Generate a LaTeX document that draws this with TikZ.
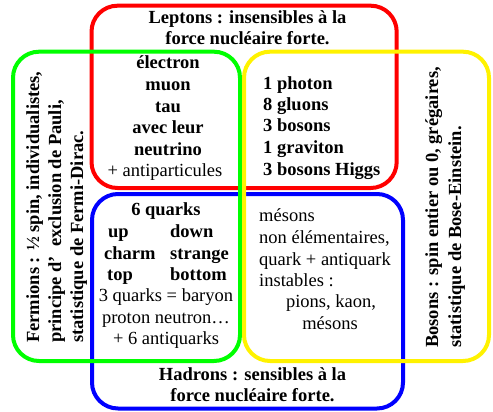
\documentclass[tikz,border=0pt]{standalone}
\usepackage{fontspec}
\setmainfont{Liberation Serif}
\begin{document}
\begin{tikzpicture}[x=1pt,y=-1pt,
  box/.style={line width=4pt, rounded corners=26pt},
  bt/.style={font=\fontsize{18.5}{21.5}\selectfont\bfseries, inner sep=0pt},
  rt/.style={font=\fontsize{18.5}{21.5}\selectfont, inner sep=0pt}]
\useasboundingbox (0,0) rectangle (493,412);
% sets
\draw[box, red] (91.5,5.7) rectangle (396.7,188);
\draw[box, blue] (92,194) rectangle (403,408.5);
\draw[box, green] (13,51.7) rectangle (240,361);
\draw[box, yellow] (244,51.7) rectangle (489,361);
% leptons title
\node[bt, anchor=base] (lt1) at (247.5,24) {Leptons : insensibles à la};
\node[bt, anchor=base] (lt2) at (247.5,45) {force nucléaire forte.};
% leptons list
\node[bt, anchor=base] (lep1) at (168,69) {électron};
\node[bt, anchor=base] (lep2) at (168,90.5) {muon};
\node[bt, anchor=base] (lep3) at (168,112) {tau};
\node[bt, anchor=base] (lep4) at (168,133.5) {avec leur};
\node[bt, anchor=base] (lep5) at (168,155) {neutrino};
\node[rt, anchor=base] (lep6) at (165,176.5) {+ antiparticules};
% bosons list
\node[bt, anchor=base west] (bos1) at (263,89.3) {1 photon};
\node[bt, anchor=base west] (bos2) at (263,110.7) {8 gluons};
\node[bt, anchor=base west] (bos3) at (263,131.7) {3 bosons};
\node[bt, anchor=base west] (bos4) at (263,153.3) {1 graviton};
\node[bt, anchor=base west] (bos5) at (263,175) {3 bosons Higgs};
% quarks
\node[bt, anchor=base] (q0) at (166,215.7) {6 quarks};
\node[bt, anchor=base west] (qup) at (108,237.3) {up};
\node[bt, anchor=base west] (qdown) at (170,237.3) {down};
\node[bt, anchor=base west] (qcharm) at (104,259.3) {charm};
\node[bt, anchor=base west] (qstrange) at (170,259.3) {strange};
\node[bt, anchor=base west] (qtop) at (107,280.7) {top};
\node[bt, anchor=base west] (qbottom) at (170,280.7) {bottom};
\node[rt, anchor=base] (q1) at (166,301.7) {3 quarks = baryon};
\node[rt, anchor=base] (q2) at (166,323.3) {proton neutron…};
\node[rt, anchor=base] (q3) at (166,344) {+ 6 antiquarks};
% hadrons title
\node[bt, anchor=base] (ht1) at (252.5,380) {Hadrons : sensibles à la};
\node[bt, anchor=base] (ht2) at (252.5,401.7) {force nucléaire forte.};
% mesons
\node[rt, anchor=base west] (m1) at (259,221.7) {mésons};
\node[rt, anchor=base west] (m2) at (259,243.3) {non élémentaires,};
\node[rt, anchor=base west] (m3) at (259,265) {quark + antiquark};
\node[rt, anchor=base west] (m4) at (259,286) {instables :};
\node[rt, anchor=base] (m5) at (331,307.3) {pions, kaon,};
\node[rt, anchor=base] (m6) at (330,329) {mésons};
% rotated titles
\node[bt, rotate=90, anchor=base west] (f1) at (39,343) {Fermions : ½ spin, individualistes,};
\node[bt, rotate=90, anchor=base west] (f2) at (61,343) {principe d’~ exclusion de Pauli,};
\node[bt, rotate=90, anchor=base west] (f3) at (83,343) {statistique de Fermi-Dirac.};
\node[bt, rotate=90, anchor=base west] (b1) at (438,348) {Bosons : spin entier ou 0, grégaires,};
\node[bt, rotate=90, anchor=base west] (b2) at (461,348) {statistique de Bose-Einstein.};
\end{tikzpicture}
\end{document}
